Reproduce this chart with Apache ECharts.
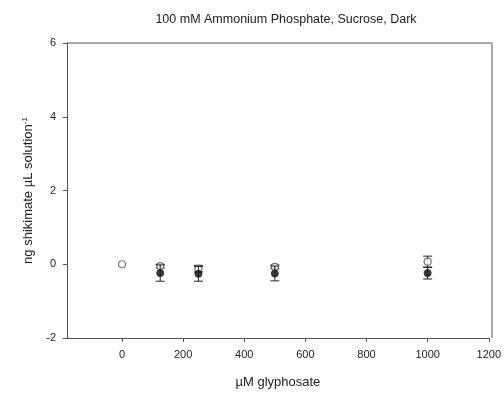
<!DOCTYPE html>
<html>
<head>
<meta charset="utf-8">
<script src="https://cdn.jsdelivr.net/npm/echarts@6/dist/echarts.min.js"></script>
</head>
<body style="margin:0">
<div id="chart" style="width:504px;height:398px;"></div>
<script>
// glyphosate doses (µM)
var doses = [0, 125, 250, 500, 1000]
// open circles
var openMean = [0, -0.05, -0.12, -0.07, 0.07]
var openErr = [0, 0.05, 0.09, 0.05, 0.15]
// filled circles (no value at 0)
var fillDoses = [125, 250, 500, 1000]
var fillMean = [-0.24, -0.26, -0.25, -0.24]
var fillErr = [0.22, 0.2, 0.2, 0.16]
var xTicks = [0, 200, 400, 600, 800, 1000, 1200]
var yTicks = [-2, 0, 2, 4, 6]

var font = 'Liberation Sans, Arial, sans-serif'

function errData (xs, means, errs) {
  var out = []
  for (var i = 0; i < xs.length; i++) {
    if (errs[i] > 0) out.push([xs[i], means[i] - errs[i], means[i] + errs[i]])
  }
  return out
}

function errRender (params, api) {
  var lo = api.coord([api.value(0), api.value(1)])
  var hi = api.coord([api.value(0), api.value(2)])
  var w = 4.5
  var style = { stroke: '#222', lineWidth: 1 }
  return {
    type: 'group',
    children: [
      { type: 'line', shape: { x1: lo[0], y1: lo[1], x2: hi[0], y2: hi[1] }, style: style },
      { type: 'line', shape: { x1: lo[0] - w, y1: lo[1], x2: lo[0] + w, y2: lo[1] }, style: style },
      { type: 'line', shape: { x1: hi[0] - w, y1: hi[1], x2: hi[0] + w, y2: hi[1] }, style: style }
    ]
  }
}

var chart = echarts.init(document.getElementById('chart'))
chart.setOption({
  animation: false,
  backgroundColor: '#fff',
  title: {
    text: '100 mM Ammonium Phosphate, Sucrose, Dark',
    left: 281,
    textAlign: 'center',
    top: 8,
    textStyle: { fontFamily: font, fontSize: 12.5, fontWeight: 'normal', color: '#222' }
  },
  grid: { left: 67, right: 12, top: 43, bottom: 60 },
  xAxis: {
    type: 'value',
    min: -180,
    max: 1200,
    name: 'µM glyphosate',
    nameLocation: 'middle',
    nameGap: 38,
    nameTextStyle: { fontFamily: font, fontSize: 13, color: '#222' },
    axisLine: { onZero: false, lineStyle: { color: '#555' } },
    axisTick: { customValues: xTicks, length: 4, lineStyle: { color: '#555' } },
    axisLabel: {
      customValues: xTicks,
      fontFamily: font,
      fontSize: 11,
      color: '#222',
      margin: 11,
      formatter: function (v) { return String(v) }
    },
    splitLine: { show: false }
  },
  yAxis: {
    type: 'value',
    min: -2,
    max: 6,
    interval: 2,
    name: '{a|ng shikimate µL solution}{s|-1}',
    nameLocation: 'middle',
    nameGap: 26,
    nameTextStyle: {
      rich: {
        a: { fontFamily: font, fontSize: 13, color: '#222' },
        s: { fontFamily: font, fontSize: 8, color: '#222', verticalAlign: 'top', padding: [0, 0, 9, 0] }
      }
    },
    axisLine: { show: true, onZero: false, lineStyle: { color: '#555' } },
    axisTick: { show: true, length: 4, lineStyle: { color: '#555' } },
    axisLabel: { fontFamily: font, fontSize: 11, color: '#222', margin: 11 },
    splitLine: { show: false }
  },
  graphic: [
    { type: 'line', shape: { x1: 67, y1: 43, x2: 492, y2: 43 }, style: { stroke: '#555', lineWidth: 1 } },
    { type: 'line', shape: { x1: 492, y1: 43, x2: 492, y2: 338 }, style: { stroke: '#555', lineWidth: 1 } }
  ],
  series: [
    {
      type: 'custom',
      renderItem: errRender,
      data: errData(doses, openMean, openErr),
      z: 2
    },
    {
      type: 'scatter',
      symbol: 'circle',
      symbolSize: 7,
      itemStyle: { color: '#fff', borderColor: '#555', borderWidth: 1.2 },
      data: doses.map(function (d, i) { return [d, openMean[i]] }),
      z: 3
    },
    {
      type: 'custom',
      renderItem: errRender,
      data: errData(fillDoses, fillMean, fillErr),
      z: 4
    },
    {
      type: 'scatter',
      symbol: 'circle',
      symbolSize: 7,
      itemStyle: { color: '#111', borderColor: '#111', borderWidth: 1 },
      data: fillDoses.map(function (d, i) { return [d, fillMean[i]] }),
      z: 5
    }
  ]
})
</script>
</body>
</html>
